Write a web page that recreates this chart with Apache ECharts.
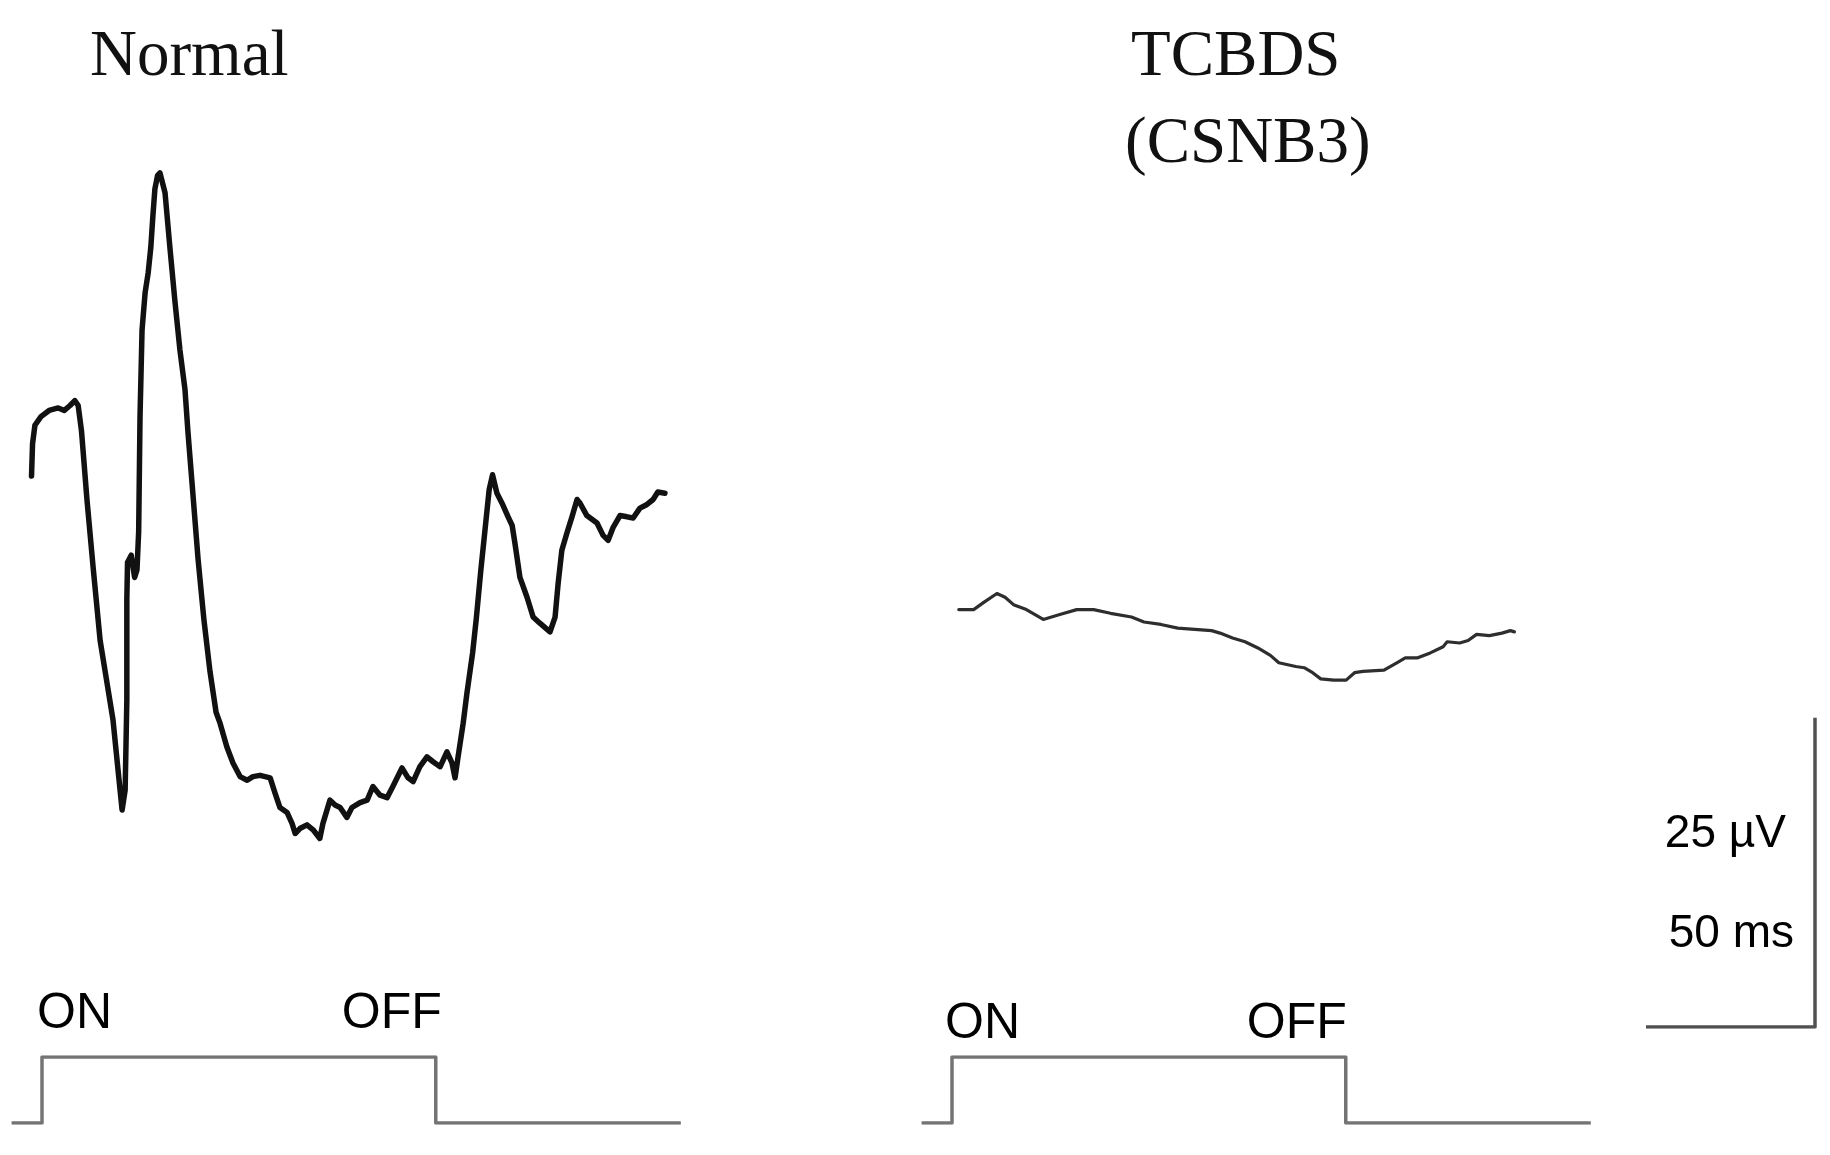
<!DOCTYPE html>
<html>
<head>
<meta charset="utf-8">
<script src="https://cdn.jsdelivr.net/npm/echarts@6/dist/echarts.min.js"></script>
<style>
  html, body { margin: 0; padding: 0; background: #ffffff; }
  #chart { width: 1830px; height: 1155px; }
</style>
</head>
<body>
<div id="chart"></div>
<script>
// ---------- DATA (time in ms from stimulus onset, amplitude in µV) ----------
const panelTitles = ['Normal', 'TCBDS', '(CSNB3)'];

const normalTime = [-3.1, -2.8, -2.1, -0.3, 2.1, 4.8, 6.6, 8.3, 9.7, 10.7, 11.7, 13.3, 15.2, 17.2, 19.1, 21.0, 23.1, 23.7,
  24.6, 25.1, 25.1, 25.3, 26.4, 27.4, 28.1, 28.6, 29.0, 29.6, 30.5, 31.4, 32.2, 32.8, 33.4, 34.2, 34.9,
  36.4, 37.9, 39.3, 40.8, 42.3, 43.2, 44.4, 46.2, 47.9, 49.7, 51.5,
  52.7, 54.7, 56.5, 58.6, 60.7, 62.4, 64.5, 67.5, 68.9, 70.4, 72.5, 74.0, 74.9, 76.3, 78.4, 80.2, 82.2, 83.1, 85.2, 86.7,
  88.2, 90.2, 91.7, 94.1, 96.2, 97.9, 100.0, 102.1, 103.8, 106.5, 108.3, 109.8, 111.8, 113.9, 115.7, 117.8, 119.8, 121.3,
  122.2, 123.1, 124.6, 125.7, 127.4, 128.5, 129.8, 131.2, 132.3, 133.3,
  134.6, 136.1, 137.9, 139.1, 139.9, 141.4, 143.5, 145.3, 147.3, 150.3,
  151.8, 152.7, 153.8, 155.3, 156.8, 158.3, 159.2, 161.2, 164.2, 166.0, 167.5, 168.9, 171.0, 173.1, 174.9, 176.9, 179.0,
  180.8, 182.2, 184.3];
const normalVolt = [0, 2.6, 4.1, 4.8, 5.3, 5.5, 5.3, 5.7, 6.1, 5.7, 3.6, -1.9, -7.6, -13.3, -16.5, -19.7, -25.4, -27.0,
  -25.4, -18.1, -10.0, -7.0, -6.4, -8.2, -7.6, -4.5, 4.8, 11.8, 14.8, 16.4, 18.5, 21.0, 23.2, 24.3, 24.5,
  22.9, 18.3, 14.2, 10.2, 7.0, 3.5, -0.6, -6.8, -11.6, -15.8, -19.1,
  -20.0, -21.9, -23.2, -24.3, -24.6, -24.3, -24.2, -24.4, -25.6, -26.8, -27.2, -28.1, -28.9, -28.5, -28.2, -28.6, -29.3, -28.1, -26.2, -26.6,
  -26.8, -27.6, -26.8, -26.4, -26.2, -25.1, -25.8, -26.0, -25.1, -23.6, -24.4, -24.7, -23.5, -22.7, -23.1, -23.5, -22.3, -23.2,
  -24.4, -22.7, -20.0, -17.6, -14.3, -11.5, -7.7, -4.0, -1.1, 0.1,
  -1.4, -2.2, -3.3, -4.0, -5.4, -8.2, -9.8, -11.4, -11.9, -12.6,
  -11.4, -8.7, -6.0, -4.6, -3.3, -1.9, -2.2, -3.2, -3.8, -4.8, -5.2, -4.2, -3.2, -3.3, -3.4, -2.6, -2.3,
  -1.9, -1.3, -1.4];

const tcbdsTime = [2.0, 6.4, 9.5, 13.3, 15.7, 18.2, 22.0, 27.0, 31.9, 36.9, 41.9, 46.9, 53.1, 56.8, 61.8, 66.8, 71.8,
  76.8, 79.3, 83.0, 86.7, 90.5, 94.2, 96.7, 101.7, 104.2, 106.7, 109.1, 112.9, 116.6, 119.1, 121.6, 127.8, 131.6,
  134.1, 137.8, 141.5, 145.3, 146.5, 150.2, 152.7, 155.2, 159.0, 162.7, 165.2, 166.4];
const tcbdsVolt = [-10.8, -10.8, -10.2, -9.5, -9.8, -10.4, -10.8, -11.6, -11.2, -10.8, -10.8, -11.1, -11.4, -11.8, -12.0, -12.3, -12.4,
  -12.5, -12.7, -13.1, -13.4, -13.9, -14.5, -15.1, -15.4, -15.5, -15.9, -16.4, -16.5, -16.5, -15.9, -15.8, -15.7, -15.1,
  -14.7, -14.7, -14.3, -13.8, -13.4, -13.5, -13.3, -12.8, -12.9, -12.7, -12.5, -12.6];

// stimulus trace (0 = off, 1 = on)
const stimTime = [-9, 0, 0, 116.5, 116.5, 189];
const stimLevel = [0, 0, 1, 1, 0, 0];
const stimLabels = ['ON', 'OFF'];
const stimLabelTime = [0, 116.5];

// calibration bar: 50 ms x 25 µV
const scaleTime = [0, 50, 50];
const scaleVolt = [0, 0, 25];
const scaleLabels = ['25 \u00b5V', '50 ms'];

// ---------- LAYOUT ----------
const PX_MS = 3.38, PX_UV = 12.37;
const T_MIN = -10, T_MAX = 190, V_MIN = -35, V_MAX = 35;
const ZERO_Y = 476;
const ercTop = ZERO_Y - V_MAX * PX_UV;
const ercH = (V_MAX - V_MIN) * PX_UV;
const panelW = (T_MAX - T_MIN) * PX_MS;
const leftOn = 42, rightOn = 952;
const leftL = leftOn + T_MIN * PX_MS, rightL = rightOn + T_MIN * PX_MS;

const zip = (a, b) => a.map((v, i) => [v, b[i]]);

const grids = [
  { left: leftL, top: ercTop, width: panelW, height: ercH },
  { left: rightL, top: ercTop, width: panelW, height: ercH },
  { left: leftL, top: 1057, width: panelW, height: 66 },
  { left: rightL, top: 1057, width: panelW, height: 66 },
  { left: 1646, top: 1027 - 25 * PX_UV, width: 50 * PX_MS, height: 25 * PX_UV }
];
const hidden = { show: false };
const xAxes = [
  Object.assign({ type: 'value', gridIndex: 0, min: T_MIN, max: T_MAX }, hidden),
  Object.assign({ type: 'value', gridIndex: 1, min: T_MIN, max: T_MAX }, hidden),
  Object.assign({ type: 'value', gridIndex: 2, min: T_MIN, max: T_MAX }, hidden),
  Object.assign({ type: 'value', gridIndex: 3, min: T_MIN, max: T_MAX }, hidden),
  Object.assign({ type: 'value', gridIndex: 4, min: 0, max: 50 }, hidden)
];
const yAxes = [
  Object.assign({ type: 'value', gridIndex: 0, min: V_MIN, max: V_MAX }, hidden),
  Object.assign({ type: 'value', gridIndex: 1, min: V_MIN, max: V_MAX }, hidden),
  Object.assign({ type: 'value', gridIndex: 2, min: 0, max: 1 }, hidden),
  Object.assign({ type: 'value', gridIndex: 3, min: 0, max: 1 }, hidden),
  Object.assign({ type: 'value', gridIndex: 4, min: 0, max: 25 }, hidden)
];

const stimLine = (idx) => ({
  type: 'line', xAxisIndex: idx, yAxisIndex: idx, data: zip(stimTime, stimLevel),
  showSymbol: false, silent: true,
  lineStyle: { color: '#747474', width: 3.5, join: 'round' }
});
const stimText = (idx, dy, dxOn, dxOff) => ({
  type: 'scatter', xAxisIndex: idx, yAxisIndex: idx, symbolSize: 0, silent: true,
  itemStyle: { color: '#000', opacity: 1 },
  data: stimLabelTime.map((t, i) => ({
    value: [t, 1], name: stimLabels[i],
    label: {
      show: true, formatter: stimLabels[i],
      position: [i === 0 ? dxOn : dxOff, dy],
      align: i === 0 ? 'left' : 'right', verticalAlign: 'middle',
      fontFamily: 'Liberation Sans', fontSize: 50, color: '#000', opacity: 1
    }
  }))
});

const serif = { fontFamily: 'Liberation Serif', fontSize: 65, fill: '#111' };
const sans = { fontFamily: 'Liberation Sans', fontSize: 46, fill: '#000' };

const option = {
  animation: false,
  backgroundColor: '#ffffff',
  grid: grids,
  xAxis: xAxes,
  yAxis: yAxes,
  series: [
    { type: 'line', xAxisIndex: 0, yAxisIndex: 0, data: zip(normalTime, normalVolt), showSymbol: false,
      lineStyle: { color: '#111', width: 5.5, join: 'round', cap: 'round' } },
    { type: 'line', xAxisIndex: 1, yAxisIndex: 1, data: zip(tcbdsTime, tcbdsVolt), showSymbol: false,
      lineStyle: { color: '#2e2e2e', width: 3.2, join: 'round', cap: 'round' } },
    stimLine(2), stimLine(3),
    stimText(2, -43, -5, 6),
    stimText(3, -33, -7, 1),
    { type: 'line', xAxisIndex: 4, yAxisIndex: 4, data: zip(scaleTime, scaleVolt), showSymbol: false,
      lineStyle: { color: '#505050', width: 3.5, join: 'round' } }
  ],
  graphic: [
    { type: 'text', left: 90, top: 25, style: Object.assign({ text: panelTitles[0] }, serif) },
    { type: 'text', left: 1131, top: 25, style: Object.assign({ text: panelTitles[1] }, serif) },
    { type: 'text', left: 1125, top: 112, style: Object.assign({ text: panelTitles[2] }, serif) },
    { type: 'text', right: 1830 - 1786, top: 811, style: Object.assign({ text: scaleLabels[0] }, sans) },
    { type: 'text', right: 1830 - 1794, top: 911, style: Object.assign({ text: scaleLabels[1] }, sans) }
  ]
};

const chart = echarts.init(document.getElementById('chart'), null, { renderer: 'canvas' });
chart.setOption(option);
</script>
</body>
</html>
